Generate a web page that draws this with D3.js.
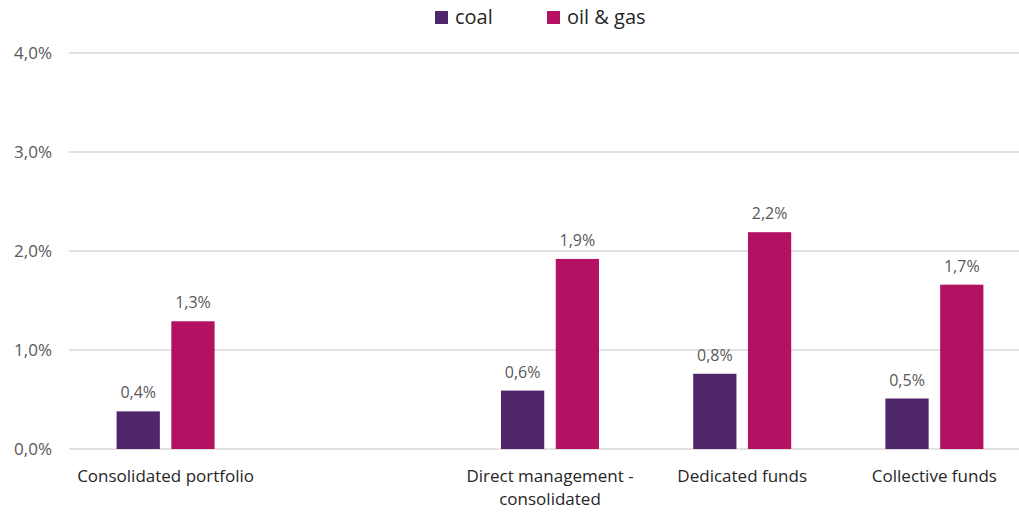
<!DOCTYPE html>
<html>
<head>
<meta charset="utf-8">
<script src="https://cdn.jsdelivr.net/npm/d3@7"></script>
<style>
  html, body { margin: 0; padding: 0; background: #fff; }
  svg { display: block; font-family: "Open Sans", "Noto Sans", sans-serif; }
</style>
</head>
<body>
<svg id="chart" width="1019" height="513"></svg>
<script>
const categories = ["Consolidated portfolio", "", "Direct management -\nconsolidated", "Dedicated funds", "Collective funds"];
const seriesNames = ["coal", "oil & gas"];
const coalValues = [0.38, null, 0.59, 0.76, 0.51];
const oilGasValues = [1.29, null, 1.92, 2.19, 1.66];
const coalLabels = ["0,4%", "", "0,6%", "0,8%", "0,5%"];
const oilGasLabels = ["1,3%", "", "1,9%", "2,2%", "1,7%"];
const yTicks = [0, 1, 2, 3, 4];
const yTickLabels = ["0,0%", "1,0%", "2,0%", "3,0%", "4,0%"];
const colors = ["#50266b", "#b21261"];

const svg = d3.select("#chart");
const W = 1019;

const x = d3.scaleBand().domain(d3.range(categories.length)).range([69.5, 1030.5]).paddingInner(0).paddingOuter(0);
const x1 = d3.scaleBand().domain([0, 1]).range([0, 98]).paddingInner(0.21);
const y = d3.scaleLinear().domain([0, 4]).range([449, 53]);

// gridlines
svg.append("g").selectAll("line").data(yTicks).join("line")
  .attr("x1", 69).attr("x2", W)
  .attr("y1", d => y(d)).attr("y2", d => y(d))
  .attr("stroke", "#d9d9d9").attr("stroke-width", 1.3);

// y axis labels
const yAxis = d3.axisLeft(y).tickValues(yTicks).tickFormat((d, i) => yTickLabels[i]).tickSize(0).tickPadding(0);
const yg = svg.append("g").attr("transform", "translate(52,0)").call(yAxis);
yg.select(".domain").remove();
yg.selectAll("text").attr("fill", "#595959").style("font-size", "17px").style("font-family", "\"Open Sans\", sans-serif");

const series = [coalValues, oilGasValues];
const labels = [coalLabels, oilGasLabels];
series.forEach((vals, s) => {
  const data = vals.map((v, i) => ({ v, i, lab: labels[s][i] })).filter(d => d.v !== null);
  const off = x.bandwidth() / 2 - 49;
  svg.append("g").selectAll("rect").data(data).join("rect")
    .attr("x", d => x(d.i) + off + x1(s))
    .attr("width", x1.bandwidth())
    .attr("y", d => y(d.v))
    .attr("height", d => y(0) - y(d.v))
    .attr("fill", colors[s]);
  svg.append("g").selectAll("text").data(data).join("text")
    .attr("x", d => x(d.i) + off + x1(s) + x1.bandwidth() / 2)
    .attr("y", d => y(d.v) - 13)
    .attr("text-anchor", "middle")
    .attr("fill", "#595959")
    .style("font-size", "16px")
    .text(d => d.lab);
});

// category labels
const cg = svg.append("g");
categories.forEach((c, i) => {
  if (!c) return;
  const lines = c.split("\n");
  const t = cg.append("text")
    .attr("x", x(i) + x.bandwidth() / 2)
    .attr("y", 482)
    .attr("text-anchor", "middle")
    .attr("fill", "#262626")
    .style("font-size", "17px");
  lines.forEach((ln, k) => {
    t.append("tspan").attr("x", x(i) + x.bandwidth() / 2).attr("dy", k === 0 ? 0 : 23).text(ln);
  });
});

// legend
const legendItems = [{ name: seriesNames[0], color: colors[0], x: 435 }, { name: seriesNames[1], color: colors[1], x: 547 }];
const lg = svg.append("g");
legendItems.forEach(it => {
  lg.append("rect").attr("x", it.x).attr("y", 11).attr("width", 13).attr("height", 13).attr("fill", it.color);
  lg.append("text").attr("x", it.x + 20).attr("y", 24).attr("fill", "#262626")
    .style("font-size", "20px").text(it.name);
});
</script>
</body>
</html>
